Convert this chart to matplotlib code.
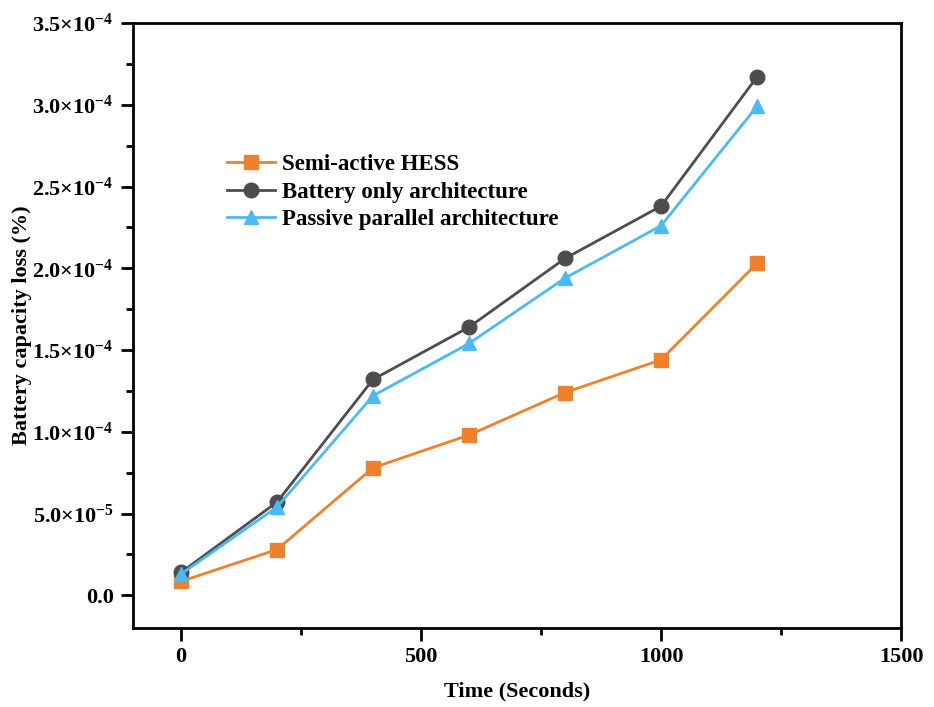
import matplotlib
matplotlib.use("Agg")
import matplotlib.pyplot as plt
from matplotlib.ticker import MultipleLocator, FuncFormatter

plt.rcParams['font.family'] = ['Liberation Serif', 'DejaVu Serif']
plt.rcParams['font.weight'] = 'bold'
plt.rcParams['mathtext.fontset'] = 'custom'
plt.rcParams['mathtext.rm'] = 'Liberation Serif:bold'
plt.rcParams['mathtext.bf'] = 'Liberation Serif:bold'
plt.rcParams['mathtext.it'] = 'Liberation Serif:bold'

# data
time_s = [0, 200, 400, 600, 800, 1000, 1200]
semi_active = [8.5e-6, 2.8e-5, 7.8e-5, 9.8e-5, 1.24e-4, 1.44e-4, 2.03e-4]
battery_only = [1.4e-5, 5.7e-5, 1.32e-4, 1.64e-4, 2.06e-4, 2.38e-4, 3.17e-4]
passive_parallel = [1.3e-5, 5.4e-5, 1.22e-4, 1.54e-4, 1.94e-4, 2.26e-4, 2.99e-4]

fig = plt.figure(figsize=(9.34, 7.07), dpi=100)
ax = fig.add_axes([0.1424, 0.1117, 0.8223, 0.8558])

ax.plot(time_s, semi_active, color='#F0812A', marker='s', markersize=9.5,
        linewidth=2, label='Semi-active HESS')
ax.plot(time_s, battery_only, color='#4D4D4D', marker='o', markersize=10.5,
        linewidth=2, label='Battery only architecture')
ax.plot(time_s, passive_parallel, color='#4CB9F7', marker='^', markersize=10.5,
        linewidth=2, label='Passive parallel architecture')

ax.set_xlim(-100, 1500)
ax.set_ylim(-2e-5, 3.5e-4)
ax.xaxis.set_major_locator(MultipleLocator(500))
ax.xaxis.set_minor_locator(MultipleLocator(250))
ax.yaxis.set_major_locator(MultipleLocator(5e-5))
ax.yaxis.set_minor_locator(MultipleLocator(2.5e-5))


def sci_fmt(v, pos):
    if abs(v) < 1e-12:
        return '0.0'
    exp = 0
    m = v
    while abs(m) < 1:
        m *= 10
        exp -= 1
    return '%.1f×10$^{%d}$' % (m, exp)


ax.yaxis.set_major_formatter(FuncFormatter(sci_fmt))

for s in ax.spines.values():
    s.set_linewidth(2)
ax.tick_params(which='major', direction='out', length=9, width=2, labelsize=16, pad=5)
ax.tick_params(which='minor', direction='out', length=5, width=2)
ax.tick_params(top=False, right=False, which='both')

ax.set_xlabel('Time (Seconds)', fontsize=16, fontweight='bold', labelpad=10)
ax.set_ylabel('Battery capacity loss (%)', fontsize=16, fontweight='bold', labelpad=0)

ax.legend(loc='upper left', bbox_to_anchor=(0.122, 0.783), frameon=False,
          fontsize=16.5, handlelength=2.1, borderpad=0, borderaxespad=0,
          labelspacing=0.28, handletextpad=0.3)

fig.savefig('out.png', dpi=100)
